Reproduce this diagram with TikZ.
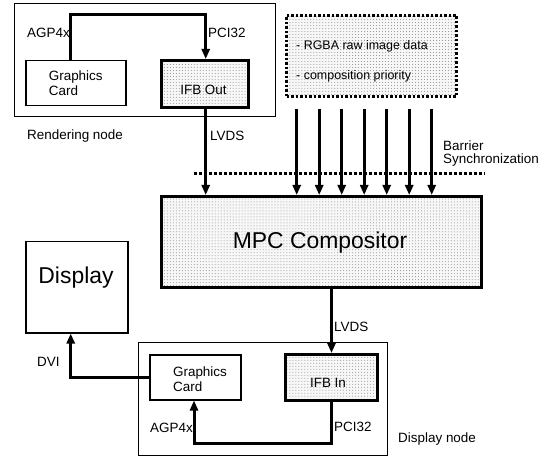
\documentclass[tikz,border=0pt]{standalone}
\usepackage{fontspec}
\setmainfont{Liberation Sans}
\usetikzlibrary{arrows.meta,patterns}
\begin{document}
\begin{tikzpicture}[x=1bp,y=-1bp,
  lbl/.style={font=\fontsize{13.5}{15}\selectfont, anchor=west, inner sep=0},
  small/.style={font=\fontsize{12.5}{14}\selectfont, anchor=west, inner sep=0},
  big/.style={font=\fontsize{23}{26}\selectfont, inner sep=0},
  box/.style={draw, anchor=north west, inner sep=0, line width=1.2bp},
  shaded/.style={preaction={fill=black!3}, pattern=dots, pattern color=black!45},
  conn/.style={line width=3bp},
  tip/.style={-{Triangle[length=10bp,width=8bp]}},
  barrier/.style={line width=3bp, dash pattern=on 3bp off 2bp},
]
\useasboundingbox (0,0) rectangle (548,456);

% Rendering node
\node[box, minimum width=261bp, minimum height=113bp] (rnode) at (14,3) {};
\node[lbl] (rlab) at (27,136) {Rendering node};
\node[box, line width=1.5bp, minimum width=100bp, minimum height=45bp, align=left,
  font=\fontsize{13.5}{15}\selectfont] (gc1) at (25,60) {Graphics\\Card};
\node[box, shaded, line width=3bp, minimum width=87bp, minimum height=47bp] (ifbout) at (160,59) {};
\node[lbl, anchor=center] (ifbouttxt) at (203.5,90) {IFB Out};

\coordinate (t1) at (70.7,15);
\coordinate (t2) at (205.7,15);
\draw[conn, tip] (gc1.north -| t1) -- (t1) -- (t2) -- (t2 |- ifbout.north);
\node[lbl] (agp1) at (27,33) {AGP4x};
\node[lbl] (pci1) at (208,33) {PCI32};

% Data box
\node[box, shaded, line width=3bp, dash pattern=on 2.5bp off 2bp, minimum width=170bp, minimum height=81bp] (data) at (285,14) {};
\node[small] (d1) at (296,46) {- RGBA raw image data};
\node[small] (d2) at (296,76.5) {- composition priority};

% MPC compositor
\node[box, shaded, line width=3bp, minimum width=320bp, minimum height=91bp] (mpc) at (160,195) {};
\node[big] (mpctxt) at (320,243) {MPC Compositor};

% LVDS top
\draw[conn, tip] (t2 |- ifbout.south) -- (t2 |- mpc.north);
\node[lbl] (lvds1) at (210,136) {LVDS};

% seven data arrows
\foreach \i in {0,...,6} {
  \coordinate (s\i) at ([xshift={11.7bp+22.5bp*\i}]data.south west);
  \draw[conn, tip] ([yshift=-11bp]s\i) -- (s\i |- mpc.north);
}

% barrier
\coordinate (b1) at (194,174);
\coordinate (b2) at (485,174);
\draw[barrier] (b1) -- (b2);
\node[lbl] (bar1) at (443,146) {Barrier};
\node[lbl] (bar2) at (443,160.5) {Synchronization};

% Display
\node[box, line width=1.5bp, minimum width=102bp, minimum height=91bp] (disp) at (25,241) {};
\node[big] (disptxt) at (76,278) {Display};

% Display node
\node[box, minimum width=249bp, minimum height=113bp] (dnode) at (138,342) {};
\node[lbl] (dlab) at (398,439) {Display node};
\node[box, line width=1.5bp, minimum width=91bp, minimum height=45bp] (gc2) at (149,354) {};
\node[lbl, align=left, anchor=center] (gc2txt) at (200,379.5) {Graphics\\Card};
\node[box, shaded, line width=3bp, minimum width=92bp, minimum height=46bp] (ifbin) at (284,353) {};
\node[lbl, anchor=center] (ifbintxt) at (328,383) {IFB In};

% LVDS lower
\draw[conn, tip] (ifbin.north |- mpc.south) -- (ifbin.north);
\node[lbl] (lvds2) at (334,327) {LVDS};

% PCI32 / AGP4x lower
\coordinate (c) at (194,443);
\draw[conn, tip] (ifbin.south) -- (ifbin.south |- c) -- (c) -- (c |- gc2.south);
\node[lbl] (agp2) at (150,428) {AGP4x};
\node[lbl] (pci2) at (334,427) {PCI32};

% DVI
\coordinate (d) at (70.7,377);
\draw[conn, tip] (gc2.west |- d) -- (d) -- (d |- disp.south);
\node[lbl] (dvi) at (37,362) {DVI};
\end{tikzpicture}
\end{document}
